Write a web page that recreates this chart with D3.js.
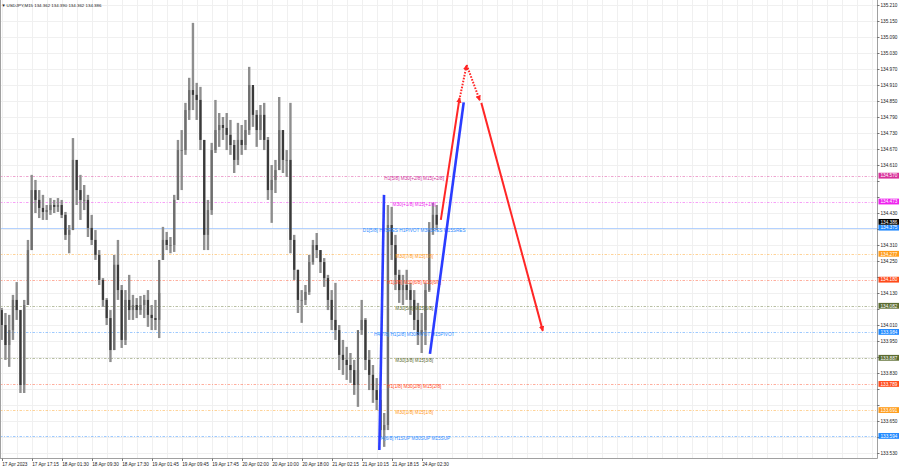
<!DOCTYPE html>
<html><head><meta charset="utf-8">
<script src="https://cdn.jsdelivr.net/npm/d3@7"></script>
<style>
body{margin:0;background:#fff}
svg{display:block}
text{font-family:"Liberation Sans",Arial,sans-serif}
</style>
</head><body>
<svg id="c" width="900" height="468"></svg>
<script>
// ---------------- DATA ----------------
const symbol = "USDJPY,M15";
const headerOHLC = ["134.362", "134.390", "134.362", "134.386"];

// hourly-aggregated bars (index 0 = first bar)
const firstOpen = 134.066;
const highs = [134.074,134.055,134.048,134.123,134.171,134.066,134.104,134.329,134.573,134.554,
134.516,134.498,134.460,134.486,134.479,134.486,134.479,134.434,134.385,134.711,
134.629,134.573,134.535,134.498,134.423,134.366,134.291,134.186,134.111,134.066,
134.273,134.329,134.160,134.141,134.198,134.123,134.111,134.119,134.123,134.141,
134.085,134.104,134.130,134.378,134.359,134.340,134.498,134.704,134.741,134.843,
134.937,135.143,134.918,134.903,134.704,134.479,134.693,134.854,134.805,134.790,
134.805,134.779,134.704,134.768,134.760,134.779,134.978,134.903,134.816,134.835,
134.843,134.715,134.610,134.629,134.865,134.741,134.666,134.843,134.348,134.217,
134.141,134.160,134.273,134.329,134.355,134.291,134.261,134.198,134.141,134.168,
134.010,133.954,133.928,133.905,133.879,133.841,134.104,134.036,133.916,133.860,
133.811,133.766,133.680,134.460,134.453,134.348,134.217,134.198,134.217,134.168,
134.141,134.093,134.055,134.168,134.396,134.468,134.460];
const lows = [133.954,133.879,133.853,133.954,134.029,133.755,133.755,134.085,134.291,134.430,
134.411,134.404,134.404,134.423,134.430,134.434,134.411,134.329,134.279,134.366,
134.460,134.404,134.441,134.340,134.310,134.254,134.160,134.078,134.010,133.871,
133.916,134.104,133.924,133.935,134.029,134.029,134.036,134.048,134.036,134.003,
133.991,133.991,133.961,134.254,134.291,134.279,134.284,134.479,134.516,134.648,
134.779,134.816,134.779,134.666,134.291,134.291,134.423,134.655,134.678,134.704,
134.666,134.648,134.580,134.610,134.648,134.666,134.723,134.753,134.678,134.704,
134.666,134.479,134.393,134.505,134.591,134.580,134.565,134.279,134.179,134.055,
134.018,134.085,134.123,134.236,134.261,134.205,134.153,134.066,133.991,133.954,
133.841,133.823,133.804,133.793,133.748,133.703,133.973,133.841,133.766,133.718,
133.691,133.590,133.553,133.616,134.254,134.141,134.093,134.085,134.104,134.048,
133.991,133.935,133.905,133.935,134.134,134.348,134.366];
const closes = [134.010,133.935,133.991,134.104,134.066,133.785,134.085,134.291,134.516,134.479,
134.449,134.434,134.441,134.460,134.453,134.460,134.423,134.348,134.366,134.629,
134.516,134.479,134.479,134.374,134.329,134.273,134.179,134.104,134.036,133.916,
134.236,134.141,133.954,134.104,134.066,134.085,134.066,134.085,134.104,134.048,
134.036,134.029,134.254,134.329,134.310,134.310,134.479,134.666,134.666,134.816,
134.891,134.873,134.854,134.704,134.348,134.441,134.666,134.741,134.760,134.749,
134.723,134.685,134.629,134.704,134.685,134.741,134.910,134.798,134.741,134.798,
134.704,134.516,134.554,134.591,134.741,134.629,134.629,134.329,134.217,134.104,
134.104,134.134,134.246,134.310,134.291,134.246,134.186,134.104,134.029,133.991,
133.898,133.879,133.860,133.841,133.785,133.991,134.029,133.879,133.823,133.766,
133.729,133.616,133.635,134.385,134.310,134.198,134.141,134.160,134.141,134.104,
134.029,133.973,133.991,134.141,134.366,134.423,134.386];

const timeLabels = ["17 Apr 2023","17 Apr 17:15","18 Apr 01:30","18 Apr 09:30","18 Apr 17:30",
"19 Apr 01:45","19 Apr 09:45","19 Apr 17:45","20 Apr 02:00","20 Apr 10:00","20 Apr 18:00",
"21 Apr 02:15","21 Apr 10:15","21 Apr 18:15","24 Apr 02:30"];
const timeLabelBars = [0,8,16,24,32,40,48,56,64,72,80,88,96,104,112];

const priceTicks = [135.210,135.150,135.090,135.030,134.970,134.910,134.850,134.790,134.730,
134.670,134.610,134.550,134.490,134.430,134.370,134.310,134.250,134.190,134.130,134.070,
134.010,133.950,133.890,133.830,133.770,133.710,133.650,133.590,133.530];

const levelValues = [133.594,133.691,133.789,133.887,133.984,134.082,134.180,134.277,134.375,134.473,134.570];
const levelTexts = ["H4[6/8] H1SUP M30SUP M15SUP","M30[1/8] M15[1/8]","H1[1/8] M30[2/8] M15[2/8]",
"M30[3/8] M15[3/8]","H4[7/8] H1[2/8] M30PIVOT M15PIVOT","M30[5/8] M15[5/8]",
"H1[3/8] M30[6/8] M15[6/8]","M30[7/8] M15[7/8]","D1[5/8] H4SRES H1PIVOT M30SRES M15SRES",
"M30[+1/8] M15[+1/8]","H1[5/8] M30[+2/8] M15[+2/8]"];
const levelLabelBar = 110;
const currentPrice = 134.386;

// projection lines: [barIndex, price]
const blueLines = [
  [[100.7,133.541],[101.95,134.498]],
  [[114.2,133.902],[123.2,134.845]]
];
const redSolidArrows = [
  [[117.1,134.404],[122.1,134.862]],
  [[127.9,134.843],[144.3,133.988]]
];
const redDottedArrows = [
  [[122.2,134.865],[124.0,134.985]],
  [[124.0,134.985],[127.5,134.852]]
];

// ---------------- STYLES ----------------
const levelStroke = ["#4a9cff","#ffad40","#ff6a4a","#7d8a55","#4a9cff","#7d8a55","#ff6a4a","#ffad40","#9cc4ff","#f050f0","#e05aa8"];
const levelTextColor = ["#2f8cff","#ff9a1a","#ff4a22","#5d6b2f","#2f8cff","#5d6b2f","#ff4a22","#ff9a1a","#2f8cff","#ee22ee","#d0309a"];
const levelBox = ["#1e88ff","#ff9c1a","#ff4a1a","#5a6b30","#1e88ff","#5a6b30","#ff4a1a","#ff9c1a","#1e88ff","#ee22ee","#d8309a"];

// ---------------- DRAW ----------------
const plotRight = 877, plotBottom = 458.5;
const svg = d3.select("#c");

const x = d3.scaleLinear().domain([0, 8]).range([1.7, 31.7]);
const y = d3.scaleLinear().domain([133.530, 135.210]).range([453, 5]);

const FS = 4.7;

// grid
const gridG = svg.append("g");
const vgrid = d3.range(0, 240, 4).filter(k => x(k) < plotRight);
gridG.selectAll("line.v").data(vgrid).join("line")
  .attr("x1", d => Math.round(x(d)) + 0.5).attr("x2", d => Math.round(x(d)) + 0.5)
  .attr("y1", 0).attr("y2", plotBottom)
  .attr("stroke", "#f0f0f0").attr("stroke-width", 1);
gridG.selectAll("line.h").data(priceTicks).join("line")
  .attr("x1", 0).attr("x2", plotRight)
  .attr("y1", d => Math.round(y(d)) + 0.5).attr("y2", d => Math.round(y(d)) + 0.5)
  .attr("stroke", "#f0f0f0").attr("stroke-width", 1);

// level lines
const lvlG = svg.append("g");
lvlG.selectAll("line").data(levelValues).join("line")
  .attr("x1", 0).attr("x2", plotRight)
  .attr("y1", d => Math.round(y(d)) + 0.5).attr("y2", d => Math.round(y(d)) + 0.5)
  .attr("stroke", (d, i) => levelStroke[i])
  .attr("stroke-opacity", (d, i) => i === 8 ? 0.85 : 0.6)
  .attr("stroke-width", 0.9)
  .attr("stroke-dasharray", (d, i) => i === 8 ? null : "2.5,1.5,1,1.5");

// candles
const bars = highs.map((h, i) => ({
  i, h, l: lows[i], c: closes[i], o: i === 0 ? firstOpen : closes[i - 1]
}));
const cG = svg.append("g");
cG.selectAll("line").data(bars).join("line")
  .attr("x1", d => x(d.i)).attr("x2", d => x(d.i))
  .attr("y1", d => y(d.h)).attr("y2", d => y(d.l))
  .attr("stroke", "#8e8e8e").attr("stroke-width", 2.4);
cG.selectAll("rect").data(bars).join("rect")
  .attr("x", d => x(d.i) - 1.1).attr("width", 2.2)
  .attr("y", d => y(Math.max(d.o, d.c)))
  .attr("height", d => Math.max(0.8, Math.abs(y(d.o) - y(d.c))))
  .attr("fill", d => d.c >= d.o ? "#6e6e6e" : "#3a3a3a");

// level text labels
svg.append("g").selectAll("text").data(levelValues).join("text")
  .attr("x", x(levelLabelBar)).attr("y", d => y(d) + 4.2)
  .attr("text-anchor", "middle")
  .attr("font-size", FS)
  .attr("fill", (d, i) => levelTextColor[i])
  .text((d, i) => levelTexts[i]);

// markers
const defs = svg.append("defs");
defs.append("marker").attr("id", "ar").attr("viewBox", "0 0 10 10")
  .attr("refX", 9).attr("refY", 5).attr("markerUnits", "userSpaceOnUse")
  .attr("markerWidth", 5.5).attr("markerHeight", 5.5).attr("orient", "auto")
  .append("path").attr("d", "M0,0 L10,5 L0,10 z").attr("fill", "#ff2626");

const line = d3.line().x(d => x(d[0])).y(d => y(d[1]));
svg.append("g").selectAll("path").data(blueLines).join("path")
  .attr("d", line).attr("fill", "none")
  .attr("stroke", "#2a3cff").attr("stroke-width", 2.6);
svg.append("g").selectAll("path").data(redSolidArrows).join("path")
  .attr("d", line).attr("fill", "none")
  .attr("stroke", "#ff2626").attr("stroke-width", 2)
  .attr("marker-end", "url(#ar)");
svg.append("g").selectAll("path").data(redDottedArrows).join("path")
  .attr("d", line).attr("fill", "none")
  .attr("stroke", "#ff2626").attr("stroke-width", 2)
  .attr("stroke-dasharray", "1.6,1.4")
  .attr("marker-end", "url(#ar)");

// borders
svg.append("line").attr("x1", plotRight + 0.5).attr("x2", plotRight + 0.5)
  .attr("y1", 0).attr("y2", plotBottom).attr("stroke", "#a0a0a0").attr("stroke-width", 1);
svg.append("line").attr("x1", 0).attr("x2", plotRight + 0.5)
  .attr("y1", plotBottom).attr("y2", plotBottom).attr("stroke", "#a0a0a0").attr("stroke-width", 1);
svg.append("line").attr("x1", 0.5).attr("x2", 0.5)
  .attr("y1", 0).attr("y2", plotBottom).attr("stroke", "#a0a0a0").attr("stroke-width", 1);

// highlighted price boxes (level boxes + current price box stacked above if they collide)
const BH = 5.8;
const boxes = levelValues.map((v, i) => ({ v, col: levelBox[i], cy: y(v) }));
const cur = { v: currentPrice, col: "#000", cy: y(currentPrice) };
boxes.forEach(b => { if (Math.abs(b.cy - cur.cy) < BH) cur.cy = Math.min(cur.cy, b.cy - BH); });
boxes.push(cur);

// price axis (tick labels hidden where a box covers them)
const visibleTicks = priceTicks.filter(t => !boxes.some(b => Math.abs(y(t) - b.cy) < BH + 0.2));
const yAxisG = svg.append("g");
yAxisG.selectAll("line").data(priceTicks).join("line")
  .attr("x1", plotRight).attr("x2", plotRight + 2.5)
  .attr("y1", d => Math.round(y(d)) + 0.5).attr("y2", d => Math.round(y(d)) + 0.5)
  .attr("stroke", "#777");
yAxisG.selectAll("text").data(visibleTicks).join("text")
  .attr("x", plotRight + 3.5).attr("y", d => y(d) + 1.7)
  .attr("font-size", FS).attr("fill", "#222")
  .text(d => d.toFixed(3));

const bG = svg.append("g").selectAll("g").data(boxes).join("g");
bG.append("rect").attr("x", plotRight + 1.5).attr("width", 20.5)
  .attr("y", d => d.cy - BH / 2).attr("height", BH).attr("fill", d => d.col);
bG.append("text").attr("x", plotRight + 3.5).attr("y", d => d.cy + 1.7)
  .attr("font-size", FS).attr("fill", "#fff").text(d => d.v.toFixed(3));

// time axis
const tG = svg.append("g");
tG.selectAll("line").data(timeLabelBars).join("line")
  .attr("x1", d => Math.round(x(d)) + 0.5).attr("x2", d => Math.round(x(d)) + 0.5)
  .attr("y1", plotBottom).attr("y2", plotBottom + 2.5).attr("stroke", "#777");
tG.selectAll("text").data(timeLabelBars).join("text")
  .attr("x", d => x(d) + 0.5).attr("y", 465.5)
  .attr("font-size", FS).attr("fill", "#222")
  .text((d, i) => timeLabels[i]);

// header
svg.append("text").attr("x", 1.5).attr("y", 6.5).attr("font-size", 4.2).attr("fill", "#222").text("\u25BC");
svg.append("text").attr("x", 6.5).attr("y", 6.5).attr("font-size", 4.4).attr("fill", "#222")
  .text(symbol + " " + headerOHLC.join(" "));
</script>
</body></html>
